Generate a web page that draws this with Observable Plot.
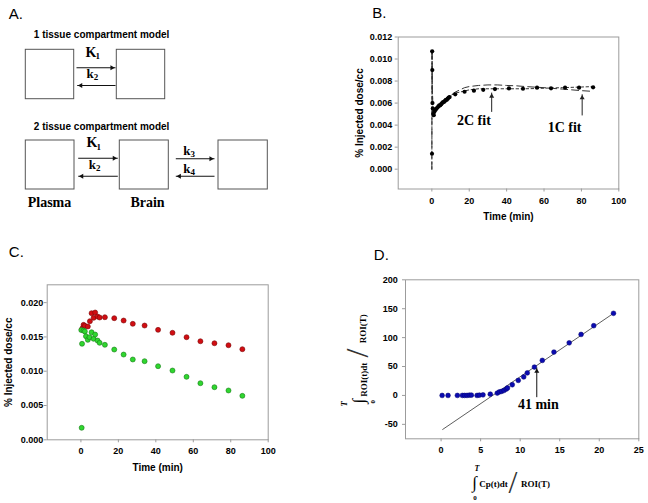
<!DOCTYPE html>
<html><head><meta charset="utf-8">
<script src="https://cdn.jsdelivr.net/npm/d3@7"></script>
<script src="https://cdn.jsdelivr.net/npm/@observablehq/plot@0.6"></script>
<style>
body{margin:0;background:#fff;}
#fig{position:relative;width:648px;height:503px;background:#fff;overflow:hidden;}
#fig > div{position:absolute;}
#fig svg{overflow:visible;}
</style></head><body><div id="fig"></div>
<script>
// ---------------- Panel A: compartment diagram ----------------
const aLetter = [{label: "A.", x: 8.3, y: 18.3}];
const aTitles = [
  {label: "1 tissue compartment model", x: 33.3, y: 37.7},
  {label: "2 tissue compartment model", x: 33.3, y: 129.3}
];
const aBoxes = [
  {x1: 25.3, x2: 73.7, y1: 49.3, y2: 98.7},
  {x1: 116.3, x2: 164.7, y1: 49.3, y2: 98.7},
  {x1: 25.3, x2: 74, y1: 140, y2: 189},
  {x1: 119.3, x2: 168.3, y1: 140, y2: 189},
  {x1: 218, x2: 267.3, y1: 140, y2: 189}
];
const aArrows = [
  {x1: 76, x2: 115, y: 67.3},
  {x1: 115, x2: 76.7, y: 85},
  {x1: 77.7, x2: 117.3, y: 157.7},
  {x1: 117.3, x2: 77.7, y: 175.7},
  {x1: 175.3, x2: 214, y: 158.3},
  {x1: 214, x2: 175.3, y: 175.7}
];
const aRates = [
  {sym: "K", sub: "1", x: 85, y: 56},
  {sym: "k", sub: "2", x: 86, y: 77.3},
  {sym: "K", sub: "1", x: 86, y: 146.7},
  {sym: "k", sub: "2", x: 88.3, y: 168.3},
  {sym: "k", sub: "3", x: 182.7, y: 154},
  {sym: "k", sub: "4", x: 182.7, y: 172.3}
];
const aNames = [{label: "Plasma", x: 49, y: 206}, {label: "Brain", x: 147, y: 206}];

// ---------------- Panel B: tissue curve with 1C / 2C fits ----------------
const bTime = [0.08,0.17,0.25,0.33,0.5,0.75,1.0,1.25,1.5,1.75,2,2.5,3,3.5,4,4.5,5,5.5,6,6.5,7,7.5,8,8.5,9,9.5,12.5,17.5,22.5,27.5,33.75,41.25,48.75,56.25,63.75,71.25,78.75,86.25];
const bValue = [0.0014,0.0107,0.0090,0.0060,0.0055,0.0050,0.0049,0.0052,0.0053,0.0054,0.0054,0.0055,0.0056,0.0057,0.0058,0.0058,0.0059,0.0060,0.0061,0.0061,0.0062,0.0063,0.0063,0.0064,0.0065,0.00655,0.0068,0.00703,0.00713,0.0072,0.00727,0.00733,0.0073,0.0074,0.00734,0.0074,0.0074,0.00743];
const fitTime = [0,0.1,0.25,0.5,1,1.5,2,3,4,5,6,8,10,12.5,15,17.5,20,25,30,35,40,45,50,55,60,65,70,75,80,86.3];
const fit1C = [0,0.0108,0.0075,0.0060,0.0051,0.0052,0.0054,0.0056,0.0058,0.0060,0.0062,0.0065,0.0067,0.0070,0.0072,0.0074,0.0075,0.0076,0.00765,0.00765,0.0076,0.00757,0.0075,0.00745,0.0074,0.00733,0.00727,0.0072,0.00713,0.00706];
const fit2C = [0,0.0108,0.0072,0.0058,0.0050,0.0052,0.0053,0.0056,0.0058,0.0060,0.0062,0.0065,0.0067,0.0069,0.0070,0.0071,0.0072,0.0073,0.0073,0.0073,0.0073,0.0073,0.0073,0.00732,0.00735,0.00738,0.0074,0.00743,0.00746,0.0075];
const bXTicks = [0, 20, 40, 60, 80, 100];
const bYTicks = [0, 0.002, 0.004, 0.006, 0.008, 0.010, 0.012];
const bNotes = [{t: 22.5, v: 0.00397, label: "2C fit"}, {t: 71, v: 0.00336, label: "1C fit"}];
const bPointers = [{t: 32, from: 0.0052, to: 0.00695}, {t: 80.4, from: 0.00488, to: 0.0068}];

// ---------------- Panel C: two regions ----------------
const cRedTime = [0.5,1.0,1.4,2.1,3.7,4.8,5.7,6.8,7.6,8.9,10,12.8,17.8,22.8,27.7,34,41.2,48.9,56.4,63.8,71.3,78.8,86.2];
const cRedValue = [0.0161,0.01633,0.01676,0.01662,0.01652,0.01729,0.01846,0.01778,0.01856,0.01797,0.01783,0.01787,0.01773,0.01739,0.01691,0.01666,0.01603,0.0156,0.01496,0.01437,0.01408,0.01379,0.01321];
const cGreenTime = [0.2,0.4,0.6,1.4,2.1,2.7,3.7,4.6,5.7,6.8,7.6,8.9,10,12.8,17.8,22.8,27.7,34,41.2,48.9,56.4,63.8,71.3,78.8,86.2];
const cGreenValue = [0.0160,0.00175,0.0140,0.01593,0.0158,0.0151,0.01457,0.01496,0.01568,0.01472,0.01535,0.01447,0.01414,0.01385,0.01316,0.01243,0.01171,0.01146,0.01073,0.0101,0.00918,0.00825,0.00767,0.00719,0.00641];
const cXTicks = [0, 20, 40, 60, 80, 100];
const cYTicks = [0, 0.005, 0.010, 0.015, 0.020];

// ---------------- Panel D: Logan plot ----------------
const dX = [0.13,0.88,2.06,2.69,2.98,3.28,3.57,3.83,4.55,4.84,5.3,6.22,7.1,7.36,7.65,7.95,8.25,8.4,9.0,9.76,10.45,10.9,11.8,12.8,14.27,16.2,17.7,19.3,21.8];
const dY = [0,0,0,0,0,0,0.5,0.5,0,0.5,1,2.2,4,6,7,8.6,11,13,18.5,26,32,39,49,60.6,75,91,105.5,120.6,142];
const dLineX = [0.2, 21.8];
const dLineY = [-58.8, 142];
const dXTicks = [0, 5, 10, 15, 20, 25];
const dYTicks = [-50, 0, 50, 100, 150, 200];
const dNote = [{x: 12.3, y: -23, label: "41 min"}];
const dPointer = [{x: 12.1, from: -3, to: 48}];

// ---------------- helpers ----------------
const sans = "'Liberation Sans', Arial, sans-serif";
const serif = "'Liberation Serif', 'Times New Roman', serif";
const gray = "#9c9c9c";
const baseStyle = {fontFamily: sans, fontSize: "9px", fontWeight: "bold", background: "transparent", overflow: "visible", color: "black"};

function mount(node, left, top, w, h) {
  const wrap = document.createElement("div");
  wrap.style.cssText = `position:absolute;left:${left}px;top:${top}px;width:${w}px;height:${h}px;`;
  wrap.appendChild(node);
  document.getElementById("fig").appendChild(wrap);
}
const zip = (xs, ys, kx, ky) => xs.map((x, i) => ({[kx]: x, [ky]: ys[i]}));
const letter = (s, dx, dy) => Plot.text([s], {frameAnchor: "top-left", dx, dy, textAnchor: "start", lineAnchor: "bottom", fontFamily: sans, fontSize: 15, fontWeight: "normal"});
const axisMarks = (xt, yt, yfmt, yPad) => [
  Plot.frame({stroke: gray, strokeWidth: 1}),
  Plot.axisX({ticks: xt, tickSize: 3, tickPadding: 5.3, stroke: gray, label: null, tickFormat: d => String(d), fontWeight: "bold"}),
  Plot.axisY({ticks: yt, tickSize: 3, tickPadding: yPad, stroke: gray, label: null, tickFormat: yfmt, fontWeight: "bold"})
];
const xLabel = (s) => Plot.text([s], {frameAnchor: "bottom", dy: 31.3, textAnchor: "middle", lineAnchor: "bottom", fontSize: 10, fontWeight: "bold", fontFamily: sans});
const yLabel = (s) => Plot.text([s], {frameAnchor: "left", dx: -35, rotate: -90, textAnchor: "middle", lineAnchor: "bottom", fontSize: 10, fontWeight: "bold", fontFamily: sans});

// ---------------- Panel A ----------------
const plotA = Plot.plot({
  width: 320, height: 235, margin: 0,
  x: {domain: [0, 320], range: [0, 320], axis: null},
  y: {domain: [0, 235], range: [0, 235], axis: null},
  style: baseStyle,
  marks: [
    Plot.text(aLetter, {x: "x", y: "y", text: "label", textAnchor: "start", lineAnchor: "bottom", fontFamily: sans, fontSize: 15, fontWeight: "normal"}),
    Plot.text(aTitles, {x: "x", y: "y", text: "label", textAnchor: "start", lineAnchor: "bottom", fontFamily: sans, fontSize: 10, fontWeight: "bold"}),
    Plot.rect(aBoxes, {x1: "x1", x2: "x2", y1: "y1", y2: "y2", fill: "white", stroke: "#555", strokeWidth: 1}),
    Plot.link(aArrows, {x1: "x1", x2: "x2", y1: "y", y2: "y", stroke: "#111", strokeWidth: 1.1}),
    Plot.dot(aArrows.filter(d => d.x2 > d.x1), {x: "x2", y: "y", symbol: "triangle2", r: 2.4, fill: "#111", rotate: 90, dx: -3.6}),
    Plot.dot(aArrows.filter(d => d.x2 < d.x1), {x: "x2", y: "y", symbol: "triangle2", r: 2.4, fill: "#111", rotate: -90, dx: 3.6}),
    Plot.text(aRates, {x: "x", y: "y", text: "sym", textAnchor: "start", lineAnchor: "bottom", fontFamily: serif, fontWeight: "bold", fontSize: d => d.sym === "K" ? 14 : 13}),
    Plot.text(aRates, {x: d => d.x + (d.sym === "K" ? 10 : 7.3), y: d => d.y + 2.5, text: "sub", textAnchor: "start", lineAnchor: "bottom", fontFamily: serif, fontWeight: "bold", fontSize: 9}),
    Plot.text(aNames, {x: "x", y: "y", text: "label", lineAnchor: "bottom", fontFamily: serif, fontWeight: "bold", fontSize: 14})
  ]
});
mount(plotA, 0, 0, 320, 235);

// ---------------- Panel B ----------------
const bData = zip(bTime, bValue, "t", "v");
const b1C = zip(fitTime, fit1C, "t", "v");
const b2C = zip(fitTime, fit2C, "t", "v");
const plotB = Plot.plot({
  width: 323, height: 235,
  marginLeft: 72.7, marginRight: 29.7, marginTop: 36.5, marginBottom: 46.5,
  x: {domain: [-18, 100]},
  y: {domain: [-0.0018, 0.012]},
  style: baseStyle,
  marks: [
    ...axisMarks(bXTicks, bYTicks, d3.format(".3f"), 3),
    Plot.line(b1C, {x: "t", y: "v", stroke: "#333", strokeWidth: 1, strokeDasharray: "7,4"}),
    Plot.line(b2C, {x: "t", y: "v", stroke: "#333", strokeWidth: 1, strokeDasharray: "2.5,2.5"}),
    Plot.dot(bData, {x: "t", y: "v", r: 2.1, fill: "black"}),
    Plot.link(bPointers, {x1: "t", x2: "t", y1: "from", y2: "to", stroke: "#222", strokeWidth: 1}),
    Plot.dot(bPointers, {x: "t", y: "to", symbol: "triangle2", r: 2.4, fill: "#222", dy: 3.6}),
    Plot.text(bNotes, {x: "t", y: "v", text: "label", lineAnchor: "bottom", fontFamily: serif, fontWeight: "bold", fontSize: 14}),
    xLabel("Time (min)"),
    yLabel("% Injected dose/cc"),
    letter("B.", -26, -18.8)
  ]
});
mount(plotB, 325, 0, 323, 235);

// ---------------- Panel C ----------------
const cRed = zip(cRedTime, cRedValue, "t", "v");
const cGreen = zip(cGreenTime, cGreenValue, "t", "v");
const plotC = Plot.plot({
  width: 325, height: 268,
  marginLeft: 46.7, marginRight: 57.3, marginTop: 49.3, marginBottom: 63.7,
  x: {domain: [-18, 100]},
  y: {domain: [0, 0.0226]},
  style: baseStyle,
  marks: [
    ...axisMarks(cXTicks, cYTicks, d3.format(".3f"), 1),
    Plot.dot(cRed, {x: "t", y: "v", r: 2.5, fill: "#d10d12", stroke: "#7a0a0a", strokeWidth: 0.6}),
    Plot.dot(cGreen, {x: "t", y: "v", r: 2.5, fill: "#2fd62f", stroke: "#177a17", strokeWidth: 0.6}),
    xLabel("Time (min)"),
    yLabel("% Injected dose/cc"),
    letter("C.", -38.4, -27.6)
  ]
});
mount(plotC, 0, 235, 325, 268);

// ---------------- Panel D ----------------
const dData = zip(dX, dY, "x", "y");
const dLine = zip(dLineX, dLineY, "x", "y");
const labelParts = [
  // x-axis label: ∫ Cp(t)dt / ROI(T)
  {text: "\u222B", dx: 69, dy: 44.2, rot: 0, size: 17, weight: "normal", style: "normal"},
  {text: "T", dx: 71.5, dy: 29.5, rot: 0, size: 8, weight: "bold", style: "italic"},
  {text: "0", dx: 69.5, dy: 58.5, rot: 0, size: 7, weight: "bold", style: "normal"},
  {text: "Cp(t)dt", dx: 88, dy: 45, rot: 0, size: 9, weight: "bold", style: "normal"},
  {text: "/", dx: 107.5, dy: 43.7, rot: 0, size: 32, weight: "normal", style: "normal"},
  {text: "ROI(T)", dx: 130, dy: 45, rot: 0, size: 9, weight: "bold", style: "normal"},
  // y-axis label (rotated): ∫ ROI(t)dt / ROI(T)
  {text: "\u222B", dx: -46.7, dy: -37.6, rot: -90, size: 17, weight: "normal", style: "normal"},
  {text: "T", dx: -61.5, dy: -35, rot: -90, size: 8, weight: "bold", style: "italic"},
  {text: "0", dx: -32.5, dy: -37, rot: -90, size: 7, weight: "bold", style: "normal"},
  {text: "ROI(t)dt", dx: -41.7, dy: -59.1, rot: -90, size: 9, weight: "bold", style: "normal"},
  {text: "/", dx: -47.5, dy: -85.8, rot: -90, size: 32, weight: "normal", style: "normal"},
  {text: "ROI(T)", dx: -42, dy: -110, rot: -90, size: 9, weight: "bold", style: "normal"}
];
const plotD = Plot.plot({
  width: 323, height: 268,
  marginLeft: 80, marginRight: 9.7, marginTop: 44.3, marginBottom: 64.7,
  x: {domain: [-4.5, 25]},
  y: {domain: [-75, 200]},
  style: baseStyle,
  marks: [
    ...axisMarks(dXTicks, dYTicks, d => String(d), 4.7),
    Plot.line(dLine, {x: "x", y: "y", stroke: "#333", strokeWidth: 0.8}),
    Plot.dot(dData, {x: "x", y: "y", r: 2.4, fill: "#0b0bb0", stroke: "#050570", strokeWidth: 0.5}),
    Plot.link(dPointer, {x1: "x", x2: "x", y1: "from", y2: "to", stroke: "#111", strokeWidth: 1}),
    Plot.dot(dPointer, {x: "x", y: "to", symbol: "triangle2", r: 2.4, fill: "#111", dy: 3.6}),
    Plot.text(dNote, {x: "x", y: "y", text: "label", lineAnchor: "bottom", fontFamily: serif, fontWeight: "bold", fontSize: 14}),
    ...labelParts.map(p => Plot.text([p.text], {frameAnchor: "bottom-left", dx: p.dx, dy: p.dy, rotate: p.rot, textAnchor: "middle", lineAnchor: "middle", fontSize: p.size, fontWeight: p.weight, fontStyle: p.style, fontFamily: serif, fill: p.size > 20 ? "#333" : "black"})),
    letter("D.", -31.7, -20)
  ]
});
mount(plotD, 325, 235, 323, 268);
</script>
</body></html>
